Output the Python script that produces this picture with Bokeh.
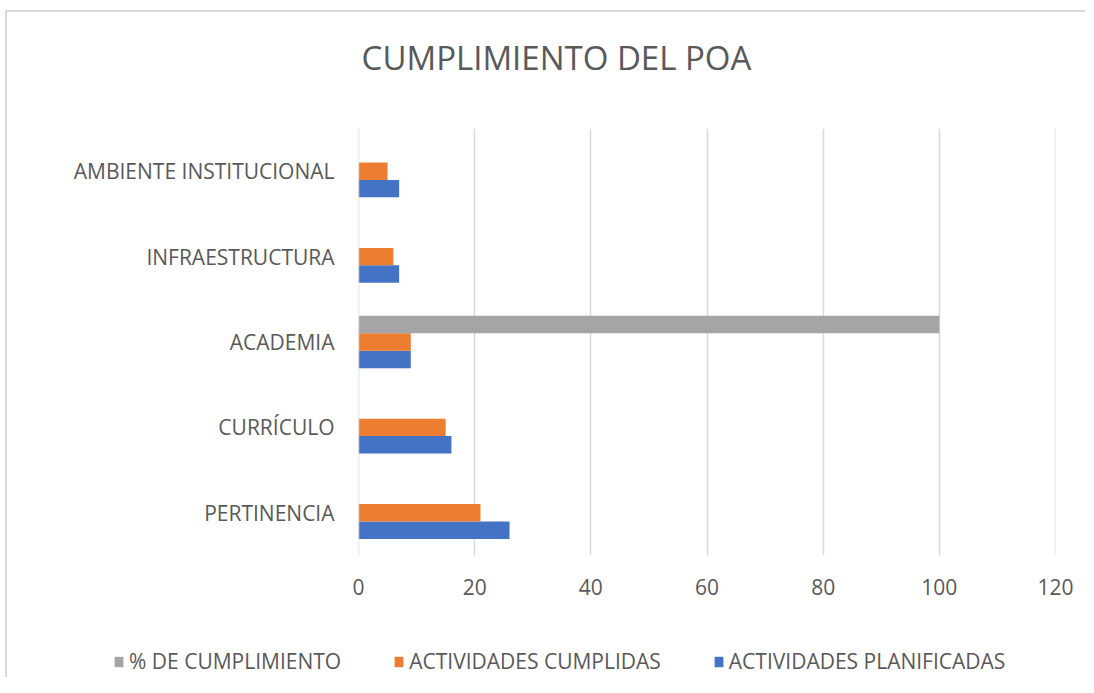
from bokeh.plotting import figure
from bokeh.layouts import column, row
from bokeh.models import ColumnDataSource, FactorRange, Range1d, Legend, LegendItem, FixedTicker, Span, Label
from bokeh.transform import dodge
from bokeh.embed import file_html
from bokeh.resources import INLINE

categories = ["PERTINENCIA", "CURRÍCULO", "ACADEMIA", "INFRAESTRUCTURA", "AMBIENTE INSTITUCIONAL"]
planificadas = [26, 16, 9, 7, 7]
cumplidas = [21, 15, 9, 6, 5]
cumplimiento = [0, 0, 100, 0, 0]
x_ticks = [0, 20, 40, 60, 80, 100, 120]
series_names = ["ACTIVIDADES PLANIFICADAS", "ACTIVIDADES CUMPLIDAS", "% DE CUMPLIMIENTO"]
chart_title = "CUMPLIMIENTO DEL POA"

BLUE = "#4472C4"
ORANGE = "#ED7D31"
GRAY = "#A5A5A5"
TEXT = "#595959"
GRID = "#D9D9D9"
FONT = "Open Sans"
W = 1078


def blank(height):
    f = figure(width=W, height=height, output_backend="svg", toolbar_location=None,
               x_range=Range1d(0, W), y_range=Range1d(0, height), title=None)
    f.axis.visible = False
    f.grid.visible = False
    f.outline_line_color = None
    f.min_border_left = 0
    f.min_border_right = 0
    f.min_border_top = 0
    f.min_border_bottom = 0
    return f


# title strip
TH = 116
tp = blank(TH)
tp.add_layout(Label(x=549, y=TH - 45, text=chart_title, text_align="center",
                    text_baseline="middle", text_font=FONT, text_font_size="33px",
                    text_color=TEXT))

# main chart
src = ColumnDataSource(dict(cat=categories, plan=planificadas, cump=cumplidas, pct=cumplimiento))

p = figure(width=W, height=482, output_backend="svg", toolbar_location=None, title=None,
           y_range=FactorRange(*categories), x_range=Range1d(0, 120))
p.min_border_left = 351
p.min_border_right = 30
p.min_border_top = 0
p.min_border_bottom = 55
p.outline_line_color = None

p.xgrid.grid_line_color = GRID
p.xgrid.grid_line_width = 1.5
p.ygrid.grid_line_color = None
for loc in (x_ticks[0], x_ticks[-1]):
    p.add_layout(Span(location=loc, dimension="height", line_color=GRID, line_width=1.5))

bh = 0.204
p.hbar(y=dodge("cat", -bh, range=p.y_range), right="plan", left=0, height=bh,
       source=src, fill_color=BLUE, line_color=None)
p.hbar(y=dodge("cat", 0, range=p.y_range), right="cump", left=0, height=bh,
       source=src, fill_color=ORANGE, line_color=None)
p.hbar(y=dodge("cat", bh, range=p.y_range), right="pct", left=0, height=bh,
       source=src, fill_color=GRAY, line_color=None)

p.xaxis.ticker = FixedTicker(ticks=x_ticks)
p.xaxis.axis_line_color = None
p.xaxis.major_tick_line_color = None
p.xaxis.minor_tick_line_color = None
p.xaxis.major_label_standoff = 17
p.yaxis.axis_line_color = None
p.yaxis.major_tick_line_color = None
p.yaxis.minor_tick_line_color = None
p.yaxis.major_label_standoff = 18
for ax in (p.xaxis, p.yaxis):
    ax.major_label_text_font = FONT
    ax.major_label_text_font_size = "21px"
    ax.major_label_text_color = TEXT

# legend strip
lp = blank(67)
g_plan = lp.quad(left=[-20], right=[-10], bottom=[-20], top=[-10], fill_color=BLUE, line_color=None)
g_cump = lp.quad(left=[-20], right=[-10], bottom=[-20], top=[-10], fill_color=ORANGE, line_color=None)
g_pct = lp.quad(left=[-20], right=[-10], bottom=[-20], top=[-10], fill_color=GRAY, line_color=None)

legend = Legend(items=[
    LegendItem(label=series_names[2], renderers=[g_pct]),
    LegendItem(label=series_names[1], renderers=[g_cump]),
    LegendItem(label=series_names[0], renderers=[g_plan]),
], orientation="horizontal", location=(106, 2))
legend.label_text_font = FONT
legend.label_text_font_size = "21px"
legend.label_text_color = TEXT
legend.glyph_width = 11
legend.glyph_height = 13
legend.label_standoff = 5
legend.spacing = 52
legend.border_line_color = None
legend.background_fill_alpha = 0
legend.padding = 0
legend.margin = 0
lp.add_layout(legend, "center")

layout = column(row(tp), p, row(lp), spacing=0)
layout.margin = (10, 0, 0, 5)
layout.styles = {"border-top": "2px solid #D9D9D9", "border-left": "2px solid #D9D9D9"}
open("out.html", "w").write(file_html(layout, INLINE))
